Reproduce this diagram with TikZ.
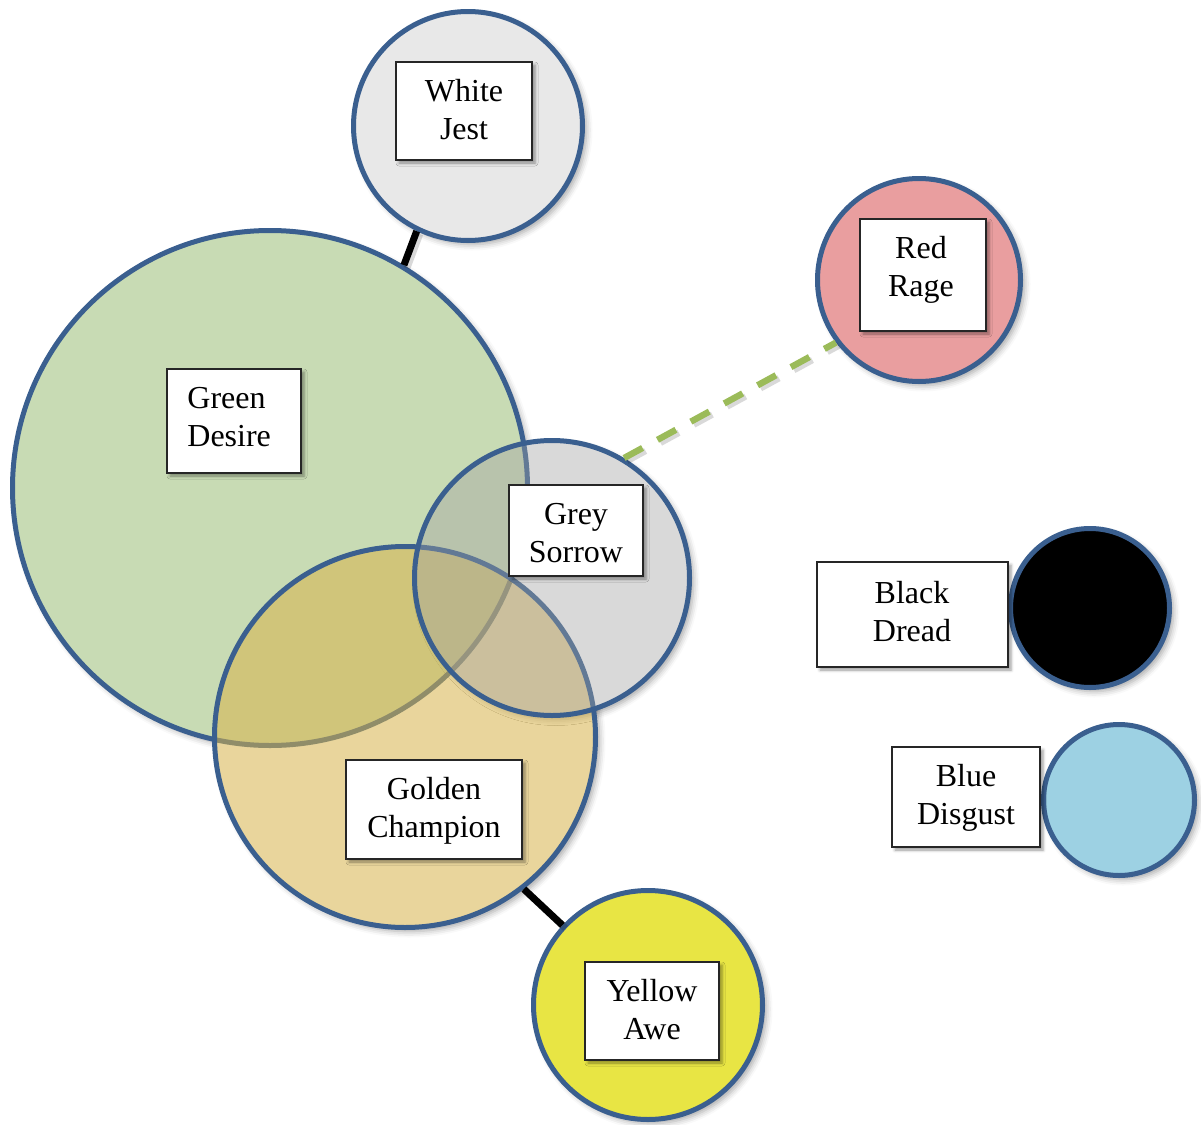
\documentclass[tikz,border=0pt]{standalone}
\usepackage{fontspec}
\setmainfont{Liberation Serif}
\usetikzlibrary{shadows.blur}
\definecolor{rim}{HTML}{3A5F8F}
\definecolor{jestfill}{HTML}{E8E8E8}
\definecolor{ragefill}{HTML}{E99E9F}
\definecolor{disgustfill}{HTML}{9DD1E3}
\definecolor{awefill}{HTML}{E8E544}
\definecolor{desirebase}{RGB}{147,185,107}
\definecolor{champbase}{RGB}{215,179,75}
\definecolor{sorrowbase}{RGB}{160,160,160}
\definecolor{dashgreen}{HTML}{9BBB59}
\tikzset{
  circ/.style={circle, draw=rim, line width=2.5pt, inner sep=0pt},
  shad/.style={blur shadow={shadow xshift=2pt, shadow yshift=-2pt, shadow blur radius=3pt, shadow opacity=35}},
  under/.style={circle, fill=white, inner sep=0pt, shad},
  tbox/.style={draw=black!85, line width=0.6pt, fill=white, inner sep=0pt,
    blur shadow={shadow xshift=1.5pt, shadow yshift=-1.5pt, shadow blur radius=1.5pt, shadow opacity=40}},
  txt/.style={align=center, font=\fontsize{16}{19}\selectfont, inner sep=0pt},
  lineshadow/.style={draw=black, draw opacity=0.15, transform canvas={shift={(1.5pt,-1.5pt)}}},
  conn/.style={line width=3.5pt, draw=black},
  dconn/.style={line width=3.2pt, draw=dashgreen, dash pattern=on 10.5pt off 8.5pt},
}
\begin{document}
\begin{tikzpicture}[x=0.5pt, y=-0.5pt]
\useasboundingbox (0,0) rectangle (1201,1125);

% underlays for the transparent circles (give outside shadow only)
\node[under, minimum size=257.5pt] (desireU) at (270,488) {};
\node[under, minimum size=190.5pt] (champU) at (405,737) {};
\node[under, minimum size=137.5pt] (sorrowU) at (552,578) {};

% transparent circles
\node[circ, fill=desirebase, fill opacity=0.5, minimum size=257.5pt] (desire) at (270,488) {};
\node[circ, fill=champbase, fill opacity=0.55, minimum size=190.5pt] (champ) at (405,737) {};
\node[circ, fill=sorrowbase, fill opacity=0.4, minimum size=137.5pt] (sorrow) at (552,578) {};

% opaque circles
\node[circ, shad, fill=jestfill, minimum size=114.5pt] (jest) at (468,126) {};
\node[circ, shad, fill=ragefill, minimum size=101.5pt] (rage) at (919,280) {};
\node[circ, shad, fill=black, minimum size=79.5pt] (dread) at (1090,608) {};
\node[circ, shad, fill=disgustfill, minimum size=75.5pt] (disgust) at (1119,800) {};
\node[circ, shad, fill=awefill, minimum size=114.5pt] (awe) at (648,1005) {};

% connector shadows
\draw[conn, lineshadow] (desire.59.4) -- (jest.244.6);
\draw[conn, lineshadow] (champ.308.5) -- (awe.137.4);
\draw[dconn, lineshadow] (sorrow.59) -- (rage.217);
% connectors
\draw[conn] (desire.59.4) -- (jest.244.6);
\draw[conn] (champ.308.5) -- (awe.137.4);
\draw[dconn] (sorrow.59) -- (rage.217);

% text boxes
\node[tbox, minimum width=68pt, minimum height=49pt] (jestbox) at (464,111) {};
\node[txt] (jesttext) at (464,110) {White\\Jest};

\node[tbox, minimum width=63pt, minimum height=56pt] (ragebox) at (923,275) {};
\node[txt] (ragetext) at (921,270) {Red\\Rage};

\node[tbox, minimum width=67pt, minimum height=52pt] (desirebox) at (234,421) {};
\node[txt, align=left, anchor=west] (desiretext) at (187,417) {Green\\Desire};

\node[tbox, minimum width=67pt, minimum height=45.5pt] (sorrowbox) at (576,530.5) {};
\node[txt] (sorrowtext) at (576,533) {Grey\\Sorrow};

\node[tbox, minimum width=95.5pt, minimum height=52.5pt] (dreadbox) at (912.5,614.5) {};
\node[txt] (dreadtext) at (912,612) {Black\\Dread};

\node[tbox, minimum width=74pt, minimum height=50pt] (disgustbox) at (966,797) {};
\node[txt] (disgusttext) at (966,798) {Blue\\Disgust};

\node[tbox, minimum width=88pt, minimum height=49.5pt] (champbox) at (434,809.5) {};
\node[txt] (champtext) at (434,811) {Golden\\Champion};

\node[tbox, minimum width=67pt, minimum height=49pt] (awebox) at (652,1011) {};
\node[txt] (awetext) at (652,1010) {Yellow\\Awe};
\end{tikzpicture}
\end{document}
